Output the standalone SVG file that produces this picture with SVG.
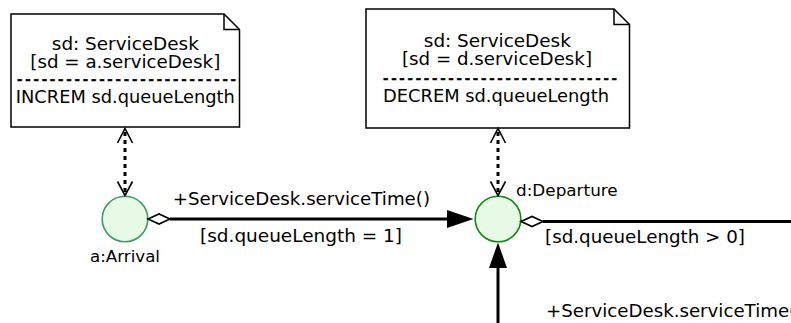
<svg xmlns="http://www.w3.org/2000/svg" width="791" height="323" viewBox="0 0 791 323">
<style>
text{font-family:"DejaVu Sans","Liberation Sans",sans-serif;fill:#000}
.nt{font-size:17px}
.dash{font-size:13px;font-weight:bold}
.lb{font-size:17px}
.nl{font-size:15px}
.note{fill:#fff;stroke:#000;stroke-width:1.5}
.fold{fill:none;stroke:#000;stroke-width:1.5}
.state{fill:#e6fae6;stroke-width:1.6}
.solid{fill:none;stroke:#000;stroke-width:3}
.dot{fill:none;stroke:#000;stroke-width:3;stroke-dasharray:4 4}
.vhead{fill:none;stroke:#000;stroke-width:1.6}
.dia{fill:#fff;stroke:#000;stroke-width:1.6}
</style>
<rect width="791" height="323" fill="#fff"/>
<g id="note1">
<path class="note" d="M11,14 H224 L239.5,29.5 V127 H11 Z"/>
<path class="fold" d="M224,14 V29.5 H239.5"/>
<text class="nt" x="125.3" y="49.5" text-anchor="middle" textLength="147" lengthAdjust="spacingAndGlyphs">sd: ServiceDesk</text>
<text class="nt" x="125.3" y="68" text-anchor="middle" textLength="190" lengthAdjust="spacingAndGlyphs">[sd = a.serviceDesk]</text>
<text class="dash" x="126.5" y="83.6" text-anchor="middle" textLength="219" lengthAdjust="spacing" stroke="#000" stroke-width="0.5">---------------------------</text>
<text class="nt" x="125.3" y="103" text-anchor="middle" textLength="219" lengthAdjust="spacingAndGlyphs">INCREM sd.queueLength</text>
</g>
<g id="note2">
<path class="note" d="M366,9 H614 L629.5,24.5 V128 H366 Z"/>
<path class="fold" d="M614,9 V24.5 H629.5"/>
<text class="nt" x="497.3" y="46.7" text-anchor="middle" textLength="147" lengthAdjust="spacingAndGlyphs">sd: ServiceDesk</text>
<text class="nt" x="497" y="65" text-anchor="middle" textLength="190" lengthAdjust="spacingAndGlyphs">[sd = d.serviceDesk]</text>
<text class="dash" x="500" y="82.6" text-anchor="middle" textLength="234" lengthAdjust="spacing" stroke="#000" stroke-width="0.5">-----------------------------</text>
<text class="nt" x="496" y="101.7" text-anchor="middle" textLength="226" lengthAdjust="spacingAndGlyphs">DECREM sd.queueLength</text>
</g>
<g id="arrival">
<circle class="state" cx="125" cy="219" r="22.8" stroke="#3c9e66"/>
<text class="nl" x="90" y="261.5" textLength="70" lengthAdjust="spacingAndGlyphs">a:Arrival</text>
</g>
<g id="departure">
<circle class="state" cx="498" cy="219" r="22.8" stroke="#138a13"/>
<text class="nl" x="516" y="196" textLength="101.7" lengthAdjust="spacingAndGlyphs">d:Departure</text>
</g>
<g id="connectors">
<line class="dot" x1="125" y1="132" x2="125" y2="192"/>
<path class="vhead" d="M117.5,143 L125,128.5 L132.5,143 M117.5,181.5 L125,195.5 L132.5,181.5"/>
<line class="dot" x1="498" y1="132" x2="498" y2="192"/>
<path class="vhead" d="M490.5,143 L498,128.5 L505.5,143 M490.5,181.5 L498,195.5 L505.5,181.5"/>
<line class="solid" x1="170" y1="219" x2="450" y2="219"/>
<path class="dia" d="M148,219 L159,214 L170,219 L159,224 Z"/>
<path d="M447,210 L473.5,219 L447,228 Z" fill="#000"/>
<text class="lb" x="172.7" y="205" textLength="257.3" lengthAdjust="spacingAndGlyphs">+ServiceDesk.serviceTime()</text>
<text class="lb" x="200" y="242" textLength="202" lengthAdjust="spacingAndGlyphs">[sd.queueLength = 1]</text>
<line class="solid" x1="543" y1="221.5" x2="791" y2="221.5"/>
<path class="dia" d="M521,221.5 L532,216.5 L543,221.5 L532,226.5 Z"/>
<text class="lb" x="545" y="243" textLength="200" lengthAdjust="spacingAndGlyphs">[sd.queueLength &gt; 0]</text>
<line class="solid" x1="498" y1="265" x2="498" y2="323"/>
<path d="M489,268 L498,242.5 L507,268 Z" fill="#000"/>
<text class="lb" x="546" y="317" textLength="257.3" lengthAdjust="spacingAndGlyphs">+ServiceDesk.serviceTime()</text>
</g>
</svg>
